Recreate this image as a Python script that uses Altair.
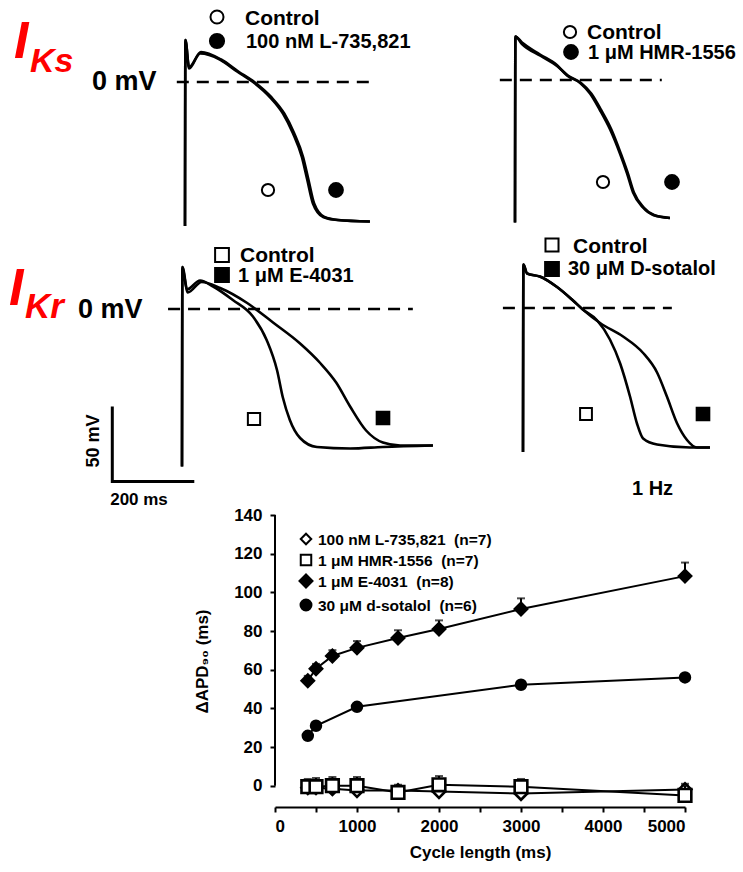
import altair as alt
import pandas as pd

FONT = "Liberation Sans"
NB = "\u00a0"

# ---------------- bottom chart data ----------------
cycle = [400, 500, 700, 1000, 1500, 2000, 3000, 5000]
l735 = [-1, -1, -1.5, -2.5, -2.5, -3, -4, -2]
l735_err = [3, 3, 3.5, 3, 3, 3, 3, 3]
hmr = [-0.5, -0.5, 0, 0, -3.5, 0.5, -0.5, -5]
hmr_err = [4, 4.5, 4.5, 4.5, 2, 4.5, 4, 5]
e4031 = [54.3, 60.5, 67.1, 71.3, 76.4, 81.0, 91.4, 108.4]
e4031_err = [2.5, 2.5, 3, 3.5, 4, 4.5, 5.5, 7]
sot_cycle = [400, 500, 1000, 3000, 5000]
sotalol = [25.8, 31.0, 40.8, 52.2, 56.0]
sotalol_err = [1, 1.5, 1.5, 2, 1.5]
series_labels = ["100 nM L-735,821  (n=7)", "1 μM HMR-1556  (n=7)",
                 "1 μM E-4031  (n=8)", "30 μM d-sotalol  (n=6)"]
y_ticks = [0, 20, 40, 60, 80, 100, 120, 140]
x_ticks = [0, 500, 1000, 1500, 2000, 2500, 3000, 3500, 4000, 4500, 5000]

# ---------------- action potential traces (ms, mV) ----------------
p1_ctrl_t = [0, 1, 10, 37, 85, 127, 166, 207, 239, 263, 285, 298, 312, 337, 371, 451]
p1_ctrl_v = [-96, 28, 9, 19, 15, 7, 0, -10, -21, -34, -50, -65, -81, -90, -92, -93]
p1_drug_t = [0, 1, 10, 39, 88, 130, 169, 210, 242, 266, 288, 301, 315, 340, 374, 451]
p1_drug_v = [-96, 28, 10, 20, 15, 7, 0, -10, -21, -34, -50, -65, -81, -90, -92, -93]

p2_ctrl_t = [0, 1, 17, 61, 102, 127, 159, 183, 207, 232, 256, 273, 288, 312, 337, 378]
p2_ctrl_v = [-95, 29, 25, 17, 10, 3, -2, -9, -20, -33, -49, -62, -75, -85, -90, -92]
p2_drug_t = [0, 1, 17, 63, 104, 129, 161, 186, 210, 235, 258, 275, 290, 314, 339, 378]
p2_drug_v = [-95, 29, 24, 16, 9, 3, -2, -9, -20, -33, -49, -62, -75, -85, -90, -92]

p3_ctrl_t = [0, 1, 12, 44, 76, 124, 173, 207, 232, 246, 263, 288, 329, 410, 490, 612]
p3_ctrl_v = [-105, 28, 13, 19, 15, 6, -5, -21, -41, -59, -74, -86, -92, -93, -92, -91]
p3_drug_t = [0, 1, 14, 48, 93, 159, 222, 288, 337, 376, 410, 449, 490, 532, 612]
p3_drug_v = [-105, 28, 11, 18, 14, 4, -9, -23, -36, -49, -65, -81, -89, -91, -91]

p4_ctrl_t = [0, 1, 10, 41, 83, 122, 146, 180, 212, 237, 261, 278, 293, 327, 407, 456]
p4_ctrl_v = [-96, 29, 23, 21, 14, 5, -1, -8, -21, -37, -59, -77, -87, -91, -93, -93]
p4_drug_t = [0, 1, 10, 41, 83, 122, 146, 188, 244, 293, 327, 351, 376, 400, 424, 456]
p4_drug_v = [-96, 29, 23, 21, 14, 5, -1, -10, -19, -30, -43, -59, -77, -88, -93, -93]

# 0 mV dashed reference line extents (ms) for each panel
zero_spans = [(-20, 463), (-37, 358), (-34, 563), (-49, 363)]
scale_bar_mv = 50
scale_bar_ms = 200

# ---------------- layout (pixels) ----------------
PX0, PY0, W, H = 275, 515, 410, 292   # bottom plot area
KX, KY = 0.41, 1.5                    # px per ms, px per mV for traces
ONE = alt.Data(values=[{"a": 1}])


def nb(s):
    return s.replace(" ", NB)


def panel_domains(x0, y0):
    d0 = (PX0 - x0) / KX
    e0 = (y0 - PY0 - H) / KY
    return [d0, d0 + W / KX], [e0, e0 + H / KY]


def ap_panel(x0, y0, traces, span, extra=None):
    xd, yd = panel_domains(x0, y0)
    xs = alt.Scale(domain=xd, nice=False, zero=False)
    ys = alt.Scale(domain=yd, nice=False, zero=False)
    rows = []
    for name, t, v in traces:
        for i, (a, b) in enumerate(zip(t, v)):
            rows.append({"trace": name, "i": i, "t": a, "v": b})
    lines = alt.Chart(pd.DataFrame(rows)).mark_line(
        color="black", strokeWidth=2.6, interpolate="monotone"
    ).encode(
        x=alt.X("t:Q", scale=xs, axis=None),
        y=alt.Y("v:Q", scale=ys, axis=None),
        detail="trace:N",
        order="i:Q",
    )
    dash = alt.Chart(pd.DataFrame({"t": [span[0]], "t2": [span[1]], "v": [0]})).mark_rule(
        color="black", strokeWidth=2.6, strokeDash=[12, 8]
    ).encode(
        x=alt.X("t:Q", scale=xs, axis=None),
        x2="t2:Q",
        y=alt.Y("v:Q", scale=ys, axis=None),
    )
    layers = [lines, dash]
    if extra is not None:
        layers.append(extra(xs, ys))
    return alt.layer(*layers)


def scale_bar(xs, ys):
    ct, cv = -170, -115
    df = pd.DataFrame({
        "i": [0, 1, 2],
        "t": [ct, ct, ct + scale_bar_ms],
        "v": [cv + scale_bar_mv, cv, cv],
    })
    return alt.Chart(df).mark_line(color="black", strokeWidth=3).encode(
        x=alt.X("t:Q", scale=xs, axis=None),
        y=alt.Y("v:Q", scale=ys, axis=None),
        order="i:Q",
    )


def label(txt, px, py, size, color="black", style="normal", align="left",
          baseline="alphabetic", angle=0):
    return alt.Chart(ONE).mark_text(
        text=nb(txt), fontSize=size, font=FONT, fontWeight="bold", color=color,
        fontStyle=style, align=align, baseline=baseline, angle=angle
    ).encode(x=alt.value(px - PX0), y=alt.value(py - PY0))


def symbol(shape, filled, px, py, size, sw=2):
    return alt.Chart(ONE).mark_point(
        shape=shape, filled=True, fill="black" if filled else "white",
        stroke="black", strokeWidth=sw, size=size, opacity=1
    ).encode(x=alt.value(px - PX0), y=alt.value(py - PY0))


# ---------------- bottom chart ----------------
xsc = alt.Scale(domain=[0, 5000], nice=False, zero=False)
ysc = alt.Scale(domain=[-11, 140], nice=False, zero=False)
X = alt.X("x:Q", scale=xsc, title="Cycle length (ms)",
          axis=alt.Axis(values=x_ticks, format="d",
                        labelExpr="datum.value % 1000 === 0 ? datum.label : ''",
                        labelFont=FONT, labelFontSize=17, labelFontWeight="bold",
                        titleFont=FONT, titleFontSize=17, titleFontWeight="bold",
                        titlePadding=10, labelPadding=6, tickSize=5, tickWidth=2,
                        domainWidth=2, domainColor="black", tickColor="black",
                        labelColor="black", titleColor="black", grid=False))
Y_AX = alt.Axis(values=y_ticks, labelFont=FONT, labelFontSize=17, labelFontWeight="bold",
                titleFont=FONT, titleFontSize=17, titleFontWeight="bold",
                titlePadding=22, labelPadding=8, tickSize=5, tickWidth=2,
                domain=False, tickColor="black", labelColor="black",
                titleColor="black", grid=False)
TITLE_Y = "ΔAPD₉₀ (ms)"

series = [
    ("L735", cycle, l735, l735_err, "diamond", False, 160),
    ("HMR", cycle, hmr, hmr_err, "square", False, 160),
    ("E4031", cycle, e4031, e4031_err, "diamond", True, 170),
    ("SOT", sot_cycle, sotalol, sotalol_err, "circle", True, 110),
]

bottom_layers = []
yaxis_rule = alt.Chart(pd.DataFrame({"y": [min(y_ticks)], "y2": [max(y_ticks)]})).mark_rule(
    color="black", strokeWidth=2).encode(
    x=alt.value(0),
    y=alt.Y("y:Q", scale=ysc, title=TITLE_Y, axis=Y_AX),
    y2="y2:Q")
bottom_layers.append(yaxis_rule)

for name, xs_, ys_, es_, shape, filled, size in series:
    df = pd.DataFrame({"x": xs_, "y": ys_, "top": [a + b for a, b in zip(ys_, es_)]})
    base = alt.Chart(df)
    bottom_layers.append(base.mark_rule(color="black", strokeWidth=2).encode(
        x=X, y=alt.Y("y:Q", scale=ysc, title=TITLE_Y, axis=Y_AX), y2="top:Q"))
    bottom_layers.append(base.mark_tick(color="black", orient="horizontal", size=8,
                                        thickness=2).encode(
        x=X, y=alt.Y("top:Q", scale=ysc, title=TITLE_Y, axis=Y_AX)))
    bottom_layers.append(base.mark_line(color="black", strokeWidth=2).encode(
        x=X, y=alt.Y("y:Q", scale=ysc, title=TITLE_Y, axis=Y_AX)))
    bottom_layers.append(base.mark_point(
        shape=shape, filled=True, fill="black" if filled else "white",
        stroke="black", strokeWidth=2.6 if not filled else 2, size=size, opacity=1).encode(
        x=X, y=alt.Y("y:Q", scale=ysc, title=TITLE_Y, axis=Y_AX)))

bottom = alt.layer(*bottom_layers)

# ---------------- AP panels ----------------
p1 = ap_panel(185, 82, [("c", p1_ctrl_t, p1_ctrl_v), ("d", p1_drug_t, p1_drug_v)], zero_spans[0])
p2 = ap_panel(515, 80, [("c", p2_ctrl_t, p2_ctrl_v), ("d", p2_drug_t, p2_drug_v)], zero_spans[1])
p3 = ap_panel(182, 309, [("c", p3_ctrl_t, p3_ctrl_v), ("d", p3_drug_t, p3_drug_v)], zero_spans[2],
              extra=scale_bar)
p4 = ap_panel(523, 308, [("c", p4_ctrl_t, p4_ctrl_v), ("d", p4_drug_t, p4_drug_v)], zero_spans[3])

# ---------------- annotations ----------------
ann = [
    # I_Ks / I_Kr labels
    label("I", 14, 58, 52, color="#ff0000", style="italic"),
    label("Ks", 30, 72, 34, color="#ff0000", style="italic"),
    label("0 mV", 92, 90, 27),
    label("I", 9, 305, 52, color="#ff0000", style="italic"),
    label("Kr", 25, 318, 35, color="#ff0000", style="italic"),
    label("0 mV", 78, 318, 27),
    # panel 1 legend
    symbol("circle", False, 217, 17, 170),
    label("Control", 245, 25, 21),
    symbol("circle", True, 217, 41, 200),
    label("100 nM L-735,821", 246, 48, 20),
    symbol("circle", False, 268, 190, 150),
    symbol("circle", True, 336, 190, 190),
    # panel 2 legend
    symbol("circle", False, 570, 32, 150),
    label("Control", 587, 39, 21),
    symbol("circle", True, 571, 52, 190),
    label("1 μM HMR-1556", 588, 59, 20),
    symbol("circle", False, 603, 182, 150),
    symbol("circle", True, 672, 182, 190),
    # panel 3 legend
    symbol("square", False, 222, 255, 190),
    label("Control", 240, 262, 21),
    symbol("square", True, 222, 275, 190),
    label("1 μM E-4031", 238, 282, 20),
    symbol("square", False, 254, 419, 150),
    symbol("square", True, 383, 418, 160),
    # panel 4 legend
    symbol("square", False, 552, 245, 170),
    label("Control", 573, 253, 21),
    symbol("square", True, 552, 269, 190),
    label("30 μM D-sotalol", 568, 275, 20),
    symbol("square", False, 586, 414, 140),
    symbol("square", True, 703, 414, 160),
    # scale bar labels and frequency
    label("50 mV", 99, 441, 18, align="center", baseline="alphabetic", angle=270),
    label("200 ms", 139, 505, 17, align="center"),
    label("1 Hz", 632, 495, 20),
    # bottom chart legend
    symbol("diamond", False, 306, 539, 110),
    label(series_labels[0], 318, 545, 15.5),
    symbol("square", False, 306, 560, 110),
    label(series_labels[1], 318, 566, 15.5),
    symbol("diamond", True, 306, 581, 170),
    label(series_labels[2], 318, 587, 15.5),
    symbol("circle", True, 306, 605, 120),
    label(series_labels[3], 318, 611, 15.5),
]

chart = alt.layer(bottom, p1, p2, p3, p4, *ann).resolve_scale(
    x="independent", y="independent"
).properties(
    width=W, height=H,
    padding={"left": PX0, "top": PY0, "right": 743 - PX0 - W, "bottom": 872 - PY0 - H},
    autosize=alt.AutoSizeParams(type="none"),
    background="white",
).configure_view(stroke=None)

chart.save("out.html", embed_options={"renderer": "svg", "actions": False})
